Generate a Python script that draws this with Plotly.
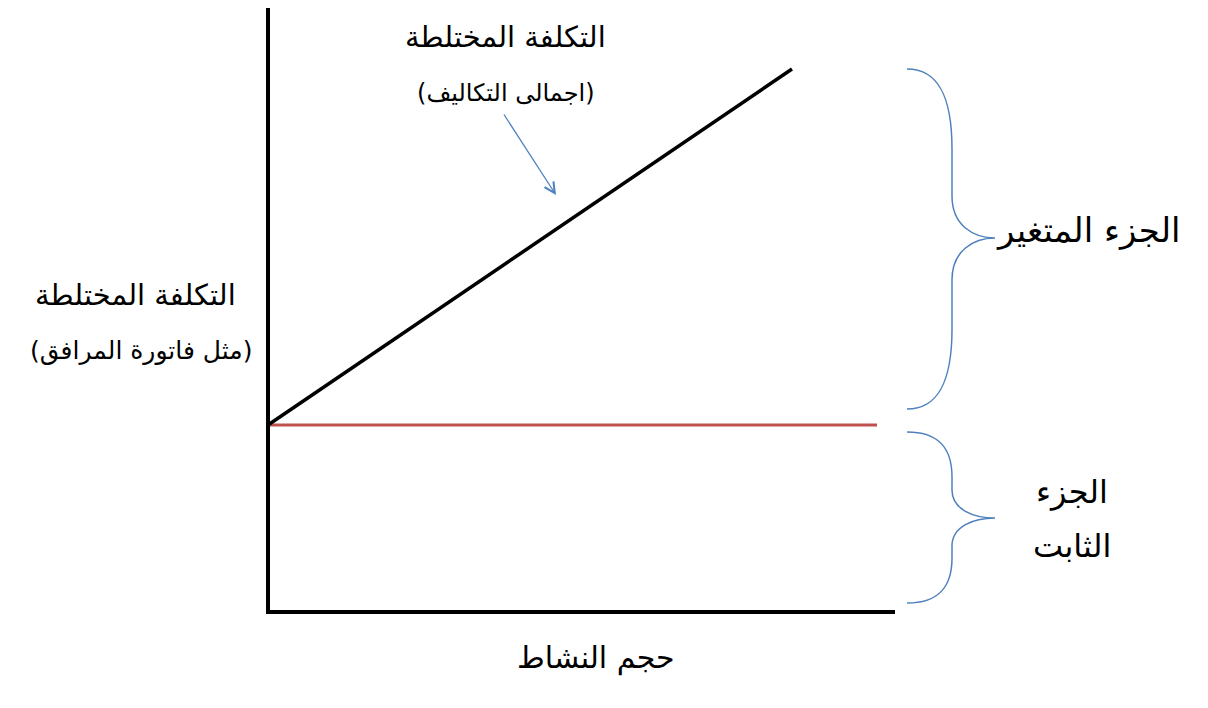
import numpy as np
import plotly.graph_objects as go

# canvas in pixel units (y grows downward)
W, H = 1208, 708
PAGE_OFFSET = 8  # default body margin of the html page

# axes
axis_x = [268, 268, 895]
axis_y = [5, 612, 612]

# mixed cost line and fixed cost line
mixed_x = [268, 792]
mixed_y = [425, 69]
fixed_x = [268, 877]
fixed_y = [425, 425]

# braces: (x_end, x_mid, x_tip, y_top, y_tip, y_bottom, curve_top, curve_tip)
braces = [
    (907, 952, 995, 69, 238, 409, 80, 42),
    (907, 952, 995, 432, 518, 603, 45, 28),
]

# labels: text, x, y, font size
labels = [
    ("التكلفة المختلطة", 505, 37, 29),
    ("(اجمالى التكاليف)", 506, 93, 24),
    ("التكلفة المختلطة", 135, 295, 29),
    ("(مثل فاتورة المرافق)", 141, 350, 25),
    ("الجزء المتغير", 1088, 230, 34),
    ("الجزء", 1072, 492, 32),
    ("الثابت", 1072, 546, 32),
    ("حجم النشاط", 596, 658, 30),
]

arrow_from = (503, 113)
arrow_to = (556, 195)

BLUE = "#4f81bd"
RED = "#c0504d"
FONT = "DejaVu Sans, Arial, sans-serif"


def brace_path(xe, xm, xt, yt, yc, yb, ct, cc):
    """Curly brace as an SVG path, opening to the left."""
    return (
        f"M {xe},{yt} "
        f"C {xe + 0.7 * (xm - xe)},{yt} {xm},{yt + 0.35 * ct} {xm},{yt + ct} "
        f"L {xm},{yc - cc} "
        f"C {xm},{yc - 0.3 * cc} {xm + 0.5 * (xt - xm)},{yc} {xt},{yc} "
        f"C {xm + 0.5 * (xt - xm)},{yc} {xm},{yc + 0.3 * cc} {xm},{yc + cc} "
        f"L {xm},{yb - ct} "
        f"C {xm},{yb - 0.35 * ct} {xe + 0.7 * (xm - xe)},{yb} {xe},{yb}"
    )


fig = go.Figure()

fig.add_trace(go.Scatter(x=fixed_x, y=fixed_y, mode="lines",
                         line=dict(color=RED, width=3), hoverinfo="skip"))
fig.add_trace(go.Scatter(x=mixed_x, y=mixed_y, mode="lines",
                         line=dict(color="black", width=3.5), hoverinfo="skip"))
fig.add_trace(go.Scatter(x=axis_x, y=axis_y, mode="lines",
                         line=dict(color="black", width=4), hoverinfo="skip"))

for b in braces:
    fig.add_shape(type="path", path=brace_path(*b), xref="x", yref="y",
                  line=dict(color=BLUE, width=1.5))

for text, x, y, size in labels:
    fig.add_annotation(x=x, y=y, text=text, showarrow=False,
                       font=dict(family=FONT, size=size, color="black"),
                       xanchor="center", yanchor="middle")

fig.add_annotation(x=arrow_to[0], y=arrow_to[1], ax=arrow_from[0], ay=arrow_from[1],
                   xref="x", yref="y", axref="x", ayref="y", text="",
                   showarrow=True, arrowhead=5, arrowsize=1.6, arrowwidth=1.3,
                   arrowcolor=BLUE)

fig.update_layout(
    width=W, height=H,
    margin=dict(l=0, r=0, t=0, b=0),
    plot_bgcolor="white", paper_bgcolor="white",
    showlegend=False,
    xaxis=dict(range=[PAGE_OFFSET, W + PAGE_OFFSET], visible=False, fixedrange=True),
    yaxis=dict(range=[H + PAGE_OFFSET, PAGE_OFFSET], visible=False, fixedrange=True),
)

fig.write_html("out.html")
